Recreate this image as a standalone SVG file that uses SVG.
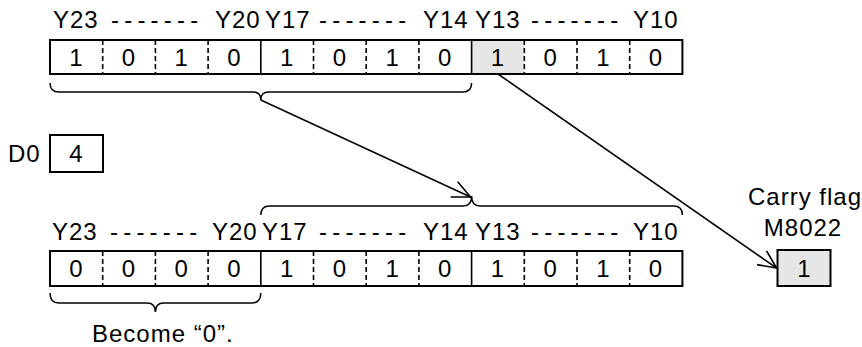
<svg xmlns="http://www.w3.org/2000/svg" width="862" height="347" viewBox="0 0 862 347">
<style>
text{font-family:"Liberation Sans",Arial,sans-serif;font-size:24px;fill:#000;letter-spacing:1px}
.c{text-anchor:middle}
.d{letter-spacing:5.2px}
.box{fill:#fff;stroke:#000;stroke-width:2}
.grey{fill:#e6e6e6}
.sol{stroke:#000;stroke-width:1.6}
.dash{stroke:#000;stroke-width:1.6;stroke-dasharray:5 3}
.brace{fill:none;stroke:#000;stroke-width:1.5}
.arr{fill:none;stroke:#000;stroke-width:1.6}
</style>
<defs>
<marker id="ah" markerUnits="userSpaceOnUse" markerWidth="24" markerHeight="24" viewBox="-20 -12 24 24" refX="0" refY="0" orient="auto">
<path d="M-18,-8.4 L0,0 L-18,8.4" fill="none" stroke="#000" stroke-width="1.6"/>
</marker>
</defs>

<g id="top-labels">
<text x="53" y="28">Y23</text><text class="d" x="111" y="28">-------</text><text x="215" y="28">Y20</text>
<text x="265" y="28">Y17</text><text class="d" x="319" y="28">-------</text><text x="423" y="28">Y14</text>
<text x="475" y="28">Y13</text><text class="d" x="531" y="28">-------</text><text x="633" y="28">Y10</text>
</g>

<g id="top-register">
<rect class="box" x="50" y="40" width="632.4" height="34"/>
<rect class="grey" x="471.6" y="41" width="52.7" height="32"/>
<line class="dash" x1="102.7" y1="40" x2="102.7" y2="74"/>
<line class="dash" x1="155.4" y1="40" x2="155.4" y2="74"/>
<line class="dash" x1="208.1" y1="40" x2="208.1" y2="74"/>
<line class="sol" x1="260.8" y1="40" x2="260.8" y2="74"/>
<line class="dash" x1="313.5" y1="40" x2="313.5" y2="74"/>
<line class="dash" x1="366.2" y1="40" x2="366.2" y2="74"/>
<line class="dash" x1="418.9" y1="40" x2="418.9" y2="74"/>
<line class="sol" x1="471.6" y1="40" x2="471.6" y2="74"/>
<line class="dash" x1="524.3" y1="40" x2="524.3" y2="74"/>
<line class="dash" x1="577" y1="40" x2="577" y2="74"/>
<line class="dash" x1="629.7" y1="40" x2="629.7" y2="74"/>
<text class="c" x="76.4" y="66">1</text><text class="c" x="129" y="66">0</text><text class="c" x="181.8" y="66">1</text><text class="c" x="234.5" y="66">0</text>
<text class="c" x="287.2" y="66">1</text><text class="c" x="339.9" y="66">0</text><text class="c" x="392.6" y="66">1</text><text class="c" x="445.3" y="66">0</text>
<text class="c" x="498" y="66">1</text><text class="c" x="550.7" y="66">0</text><text class="c" x="603.4" y="66">1</text><text class="c" x="656" y="66">0</text>
</g>

<g id="top-brace">
<path class="brace" d="M50,83 Q50,92 59,92 L253,92 Q260.8,92 260.8,100 Q260.8,92 268.6,92 L462.6,92 Q471.6,92 471.6,83"/>
</g>

<g id="d0">
<text x="8" y="162">D0</text>
<rect class="box" x="50" y="135" width="53" height="37"/>
<text class="c" x="76.5" y="162">4</text>
</g>

<g id="bottom-brace">
<path class="brace" d="M260.8,215 Q260.8,206 269.8,206 L463,206 Q471.6,206 471.6,196 Q471.6,206 480.2,206 L673.4,206 Q682.4,206 682.4,215"/>
</g>

<g id="bottom-labels">
<text x="52" y="240">Y23</text><text class="d" x="110" y="240">-------</text><text x="212" y="240">Y20</text>
<text x="262" y="240">Y17</text><text class="d" x="319" y="240">-------</text><text x="423" y="240">Y14</text>
<text x="475" y="240">Y13</text><text class="d" x="531" y="240">-------</text><text x="633" y="240">Y10</text>
</g>

<g id="bottom-register">
<rect class="box" x="50" y="251" width="632.4" height="35"/>
<line class="dash" x1="102.7" y1="251" x2="102.7" y2="286"/>
<line class="dash" x1="155.4" y1="251" x2="155.4" y2="286"/>
<line class="dash" x1="208.1" y1="251" x2="208.1" y2="286"/>
<line class="sol" x1="260.8" y1="251" x2="260.8" y2="286"/>
<line class="dash" x1="313.5" y1="251" x2="313.5" y2="286"/>
<line class="dash" x1="366.2" y1="251" x2="366.2" y2="286"/>
<line class="dash" x1="418.9" y1="251" x2="418.9" y2="286"/>
<line class="sol" x1="471.6" y1="251" x2="471.6" y2="286"/>
<line class="dash" x1="524.3" y1="251" x2="524.3" y2="286"/>
<line class="dash" x1="577" y1="251" x2="577" y2="286"/>
<line class="dash" x1="629.7" y1="251" x2="629.7" y2="286"/>
<text class="c" x="76.4" y="277">0</text><text class="c" x="129" y="277">0</text><text class="c" x="181.8" y="277">0</text><text class="c" x="234.5" y="277">0</text>
<text class="c" x="287.2" y="277">1</text><text class="c" x="339.9" y="277">0</text><text class="c" x="392.6" y="277">1</text><text class="c" x="445.3" y="277">0</text>
<text class="c" x="498" y="277">1</text><text class="c" x="550.7" y="277">0</text><text class="c" x="603.4" y="277">1</text><text class="c" x="656" y="277">0</text>
</g>

<g id="zero-brace">
<path class="brace" d="M50,293 Q50,303 59,303 L147,303 Q155.4,303 155.4,312 Q155.4,303 163.8,303 L251.8,303 Q260.8,303 260.8,293"/>
<text x="92" y="342">Become “0”.</text>
</g>

<g id="carry">
<text class="c" x="805" y="205">Carry flag</text>
<text class="c" x="803" y="236">M8022</text>
<rect class="box" x="777.5" y="250" width="53" height="36" style="fill:#e6e6e6"/>
<text class="c" x="804.5" y="277">1</text>
</g>

<g id="connectors">
<line class="arr" x1="260.8" y1="100" x2="470.5" y2="197" marker-end="url(#ah)"/>
<line class="arr" x1="498" y1="74" x2="776.5" y2="268" marker-end="url(#ah)"/>
</g>
</svg>
